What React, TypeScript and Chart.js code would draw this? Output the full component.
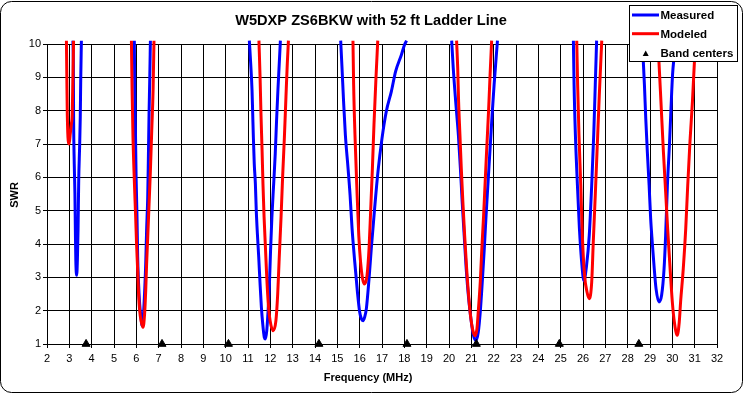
import React, { useEffect, useRef } from "react";
import { Chart, registerables } from "chart.js";

Chart.register(...registerables);

const TITLE = "W5DXP ZS6BKW with 52 ft Ladder Line";
const X_TITLE = "Frequency (MHz)";
const Y_TITLE = "SWR";
const LEGEND_LABELS = ["Measured", "Modeled", "Band centers"];

const X_MIN = 2;
const X_MAX = 32;
const Y_MIN = 1;
const Y_MAX = 10;

// Measured sweep (null = gap between dips, SWR above 10)
const measuredMHz = [
  3.16, 3.18, 3.19, 3.22, 3.25, 3.27, 3.29, 3.33, 3.36, 3.39, 3.42, 3.46, 3.49, 3.51, 3.54,
  4.5,
  5.91, 5.93, 5.96, 5.99, 6.03, 6.06, 6.10, 6.15, 6.21, 6.25, 6.31, 6.36, 6.42, 6.46, 6.51, 6.54, 6.57, 6.60, 6.63,
  9.0,
  11.06, 11.12, 11.18, 11.21, 11.24, 11.28, 11.33, 11.37, 11.42, 11.48, 11.54, 11.60, 11.66, 11.73, 11.78, 11.84,
  11.90, 11.96, 12.01, 12.07, 12.15, 12.22, 12.28, 12.34, 12.40, 12.45,
  14.0,
  15.15, 15.21, 15.28, 15.36, 15.48, 15.57, 15.66, 15.78, 15.90, 16.00, 16.08, 16.15, 16.22, 16.30, 16.42, 16.52,
  16.67, 16.82, 17.00, 17.19, 17.42, 17.61, 17.87, 18.01, 18.10,
  19.0,
  20.12, 20.19, 20.30, 20.42, 20.51, 20.59, 20.68, 20.77, 20.88, 20.98, 21.08, 21.20, 21.31, 21.40, 21.49, 21.58,
  21.66, 21.75, 21.84, 21.93, 22.02, 22.11, 22.17,
  24.0,
  25.57, 25.60, 25.66, 25.75, 25.84, 25.94, 26.04, 26.16, 26.28, 26.39, 26.48, 26.55, 26.61,
  27.8,
  28.64, 28.70, 28.75, 28.81, 28.88, 28.96, 29.03, 29.10, 29.19, 29.27, 29.40, 29.52, 29.63, 29.70, 29.78, 29.87,
  29.94, 30.01, 30.09, 30.14,
];
const measuredSWR = [
  10.1, 9.42, 7.92, 6.41, 5.51, 4.41, 3.51, 3.06, 3.51, 4.41, 5.91, 6.91, 7.82, 8.92, 10.1,
  null,
  10.1, 8.62, 7.41, 6.0, 4.81, 3.61, 2.81, 2.2, 1.8, 1.55, 1.8, 2.4, 3.4, 4.41, 5.41, 6.61, 7.92, 8.92, 10.1,
  null,
  10.1, 9.42, 8.62, 7.92, 7.21, 6.41, 5.81, 5.01, 4.31, 3.61, 2.81, 2.1, 1.6, 1.2, 1.15, 1.4,
  2.0, 2.81, 3.81, 4.81, 5.81, 6.71, 7.72, 8.62, 9.42, 10.1,
  null,
  10.1, 9.28, 8.27, 7.27, 6.27, 5.47, 4.46, 3.46, 2.56, 1.96, 1.75, 1.7, 1.8, 2.06, 2.96, 3.86,
  5.07, 6.17, 7.17, 7.97, 8.58, 9.18, 9.68, 9.98, 10.1,
  null,
  10.1, 9.28, 8.27, 7.27, 6.27, 5.27, 4.26, 3.26, 2.36, 1.76, 1.3, 1.1, 1.35, 1.96, 2.86, 3.86,
  4.86, 5.87, 6.87, 7.87, 8.78, 9.58, 10.1,
  null,
  10.1, 8.78, 7.27, 5.77, 4.46, 3.46, 2.9, 3.36, 4.26, 5.77, 7.27, 8.78, 10.1,
  null,
  10.1, 9.48, 8.78, 7.77, 6.77, 5.77, 4.76, 4.06, 3.26, 2.66, 2.26, 2.46, 3.26, 4.26, 5.77, 6.97,
  8.07, 9.08, 9.7, 10.1,
];

// Modeled sweep
const modeledMHz = [
  2.87, 2.89, 2.91, 2.95, 2.99, 3.04, 3.09, 3.13, 3.16, 3.19,
  4.5,
  5.78, 5.81, 5.85, 5.91, 5.97, 6.01, 6.06, 6.10, 6.15, 6.21, 6.30, 6.37, 6.42, 6.46, 6.51, 6.57, 6.63, 6.69, 6.75, 6.79,
  9.0,
  11.49, 11.54, 11.58, 11.63, 11.67, 11.72, 11.78, 11.84, 11.91, 11.99, 12.13, 12.25, 12.33, 12.40, 12.48, 12.55,
  12.63, 12.70, 12.76, 12.81,
  14.0,
  15.70, 15.73, 15.79, 15.87, 15.96, 16.04, 16.13, 16.22, 16.33, 16.42, 16.49, 16.57, 16.64, 16.73, 16.81,
  19.0,
  20.34, 20.39, 20.43, 20.49, 20.55, 20.62, 20.70, 20.79, 20.89, 20.98, 21.07, 21.16, 21.25, 21.32, 21.40, 21.47,
  21.55, 21.62, 21.69, 21.77, 21.84, 21.91,
  24.0,
  25.72, 25.76, 25.82, 25.90, 25.97, 26.07, 26.18, 26.28, 26.39, 26.46, 26.55, 26.64, 26.73, 26.84,
  27.8,
  29.35, 29.40, 29.49, 29.60, 29.70, 29.79, 29.90, 30.00, 30.09, 30.22, 30.31, 30.37, 30.49, 30.60, 30.69, 30.79,
  30.90, 30.99, 31.05,
];
const modeledSWR = [
  10.1, 8.9, 7.85, 7.1, 7.0, 7.3, 7.6, 7.9, 9.0, 10.1,
  null,
  10.1, 8.62, 7.21, 5.91, 4.81, 4.01, 3.21, 2.5, 2.0, 1.7, 1.5, 1.9, 2.6, 3.4, 4.2, 5.2, 6.2, 7.41, 8.62, 10.1,
  null,
  10.1, 9.02, 7.92, 6.81, 5.81, 4.81, 3.91, 3.0, 2.2, 1.7, 1.4, 1.7, 2.5, 3.61, 4.81, 6.01,
  7.21, 8.42, 9.42, 10.1,
  null,
  10.1, 8.78, 7.27, 5.77, 4.26, 3.46, 2.96, 2.8, 3.06, 3.86, 4.96, 6.27, 7.57, 8.98, 10.1,
  null,
  10.1, 9.28, 8.27, 7.27, 6.27, 5.27, 4.26, 3.26, 2.36, 1.76, 1.4, 1.25, 1.45, 2.06, 2.86, 3.86,
  4.86, 5.87, 6.87, 7.97, 9.08, 10.1,
  null,
  10.1, 8.78, 7.27, 5.77, 4.26, 3.06, 2.56, 2.36, 2.86, 4.06, 5.47, 6.97, 8.47, 10.1,
  null,
  10.1, 9.48, 8.27, 6.77, 5.57, 4.46, 3.26, 2.26, 1.66, 1.26, 1.66, 2.26, 3.26, 4.46, 5.77, 7.07,
  8.27, 9.48, 10.1,
];

// Amateur band centers
const bandCenterMHz = [3.75, 7.15, 10.125, 14.175, 18.118, 21.225, 24.94, 28.5];
const bandCenterSWR = [1, 1, 1, 1, 1, 1, 1, 1];

const BLUE = "#0000ff";
const RED = "#ff0000";
const FONT = '"Liberation Sans", Arial, Helvetica, sans-serif';

function toPoints(xs: number[], ys: (number | null)[]) {
  return xs.map((x, i) => ({ x, y: ys[i] }));
}

const decorPlugin = {
  id: "decor",
  beforeDraw(chart: any) {
    const ctx = chart.ctx;
    ctx.save();
    ctx.fillStyle = "#ffffff";
    ctx.fillRect(0, 0, chart.width, chart.height);
    ctx.restore();
  },
  afterDraw(chart: any) {
    const ctx = chart.ctx;
    ctx.save();
    // outer frame
    ctx.strokeStyle = "#000";
    ctx.lineWidth = 1;
    ctx.beginPath();
    if (ctx.roundRect) ctx.roundRect(0.5, 1.5, 742, 391, 11);
    else ctx.rect(0.5, 1.5, 742, 391);
    ctx.stroke();

    // title
    ctx.fillStyle = "#000";
    ctx.textAlign = "center";
    ctx.textBaseline = "alphabetic";
    ctx.font = `bold 14.6px ${FONT}`;
    ctx.fillText(TITLE, 371, 25);

    // axis titles
    ctx.font = `bold 11px ${FONT}`;
    ctx.fillText(X_TITLE, 368, 381);
    ctx.save();
    ctx.translate(18, 195);
    ctx.rotate(-Math.PI / 2);
    ctx.fillText(Y_TITLE, 0, 0);
    ctx.restore();

    // legend
    const lx = 629.5, ly = 5.5, lw = 108, lh = 56;
    ctx.fillStyle = "#fff";
    ctx.fillRect(lx, ly, lw, lh);
    ctx.strokeStyle = "#000";
    ctx.lineWidth = 1;
    ctx.strokeRect(lx, ly, lw, lh);

    ctx.lineWidth = 3;
    ctx.strokeStyle = BLUE;
    ctx.beginPath();
    ctx.moveTo(632, 15);
    ctx.lineTo(659, 15);
    ctx.stroke();
    ctx.strokeStyle = RED;
    ctx.beginPath();
    ctx.moveTo(632, 33.7);
    ctx.lineTo(659, 33.7);
    ctx.stroke();

    ctx.fillStyle = "#000";
    ctx.beginPath();
    ctx.moveTo(642.7, 56);
    ctx.lineTo(648.7, 56);
    ctx.lineTo(645.7, 50.5);
    ctx.closePath();
    ctx.fill();

    ctx.textAlign = "left";
    ctx.font = `bold 11.5px ${FONT}`;
    ctx.fillText(LEGEND_LABELS[0], 660.5, 19);
    ctx.fillText(LEGEND_LABELS[1], 660.5, 38);
    ctx.fillText(LEGEND_LABELS[2], 660.5, 57);
    ctx.restore();
  },
};

export default function App() {
  const canvasRef = useRef<HTMLCanvasElement | null>(null);

  useEffect(() => {
    if (!canvasRef.current) return;
    Chart.defaults.font.family = FONT;
    const chart = new Chart(canvasRef.current, {
      type: "line",
      data: {
        datasets: [
          {
            label: LEGEND_LABELS[2],
            data: toPoints(bandCenterMHz, bandCenterSWR),
            showLine: false,
            pointStyle: "triangle",
            pointRadius: 4.6,
            pointBackgroundColor: "#000",
            pointBorderColor: "#000",
            pointBorderWidth: 1,
            borderColor: "#000",
            backgroundColor: "#000",
            clip: false as any,
            order: 0,
          },
          {
            label: LEGEND_LABELS[1],
            data: toPoints(modeledMHz, modeledSWR),
            borderColor: RED,
            backgroundColor: RED,
            borderWidth: 3,
            pointRadius: 0,
            spanGaps: false,
            cubicInterpolationMode: "monotone",
            clip: { left: 0, top: 5, right: 0, bottom: 0 } as any,
            order: 1,
          },
          {
            label: LEGEND_LABELS[0],
            data: toPoints(measuredMHz, measuredSWR),
            borderColor: BLUE,
            backgroundColor: BLUE,
            borderWidth: 3,
            pointRadius: 0,
            spanGaps: false,
            cubicInterpolationMode: "monotone",
            clip: { left: 0, top: 5, right: 0, bottom: 0 } as any,
            order: 2,
          },
        ] as any,
      },
      options: {
        responsive: false,
        maintainAspectRatio: false,
        animation: false,
        devicePixelRatio: 1,
        events: [],
        layout: { padding: { left: 0, top: 44, right: 27, bottom: 0 } },
        plugins: {
          legend: { display: false },
          title: { display: false },
          tooltip: { enabled: false },
        },
        scales: {
          x: {
            type: "linear",
            min: X_MIN,
            max: X_MAX,
            afterFit: (scale: any) => {
              scale.height = 50;
            },
            ticks: {
              stepSize: 1,
              autoSkip: false,
              maxRotation: 0,
              color: "#000",
              padding: 4,
              font: { size: 11, family: FONT },
            },
            grid: { color: "#000", lineWidth: 1, tickLength: 4, drawTicks: true },
            border: { display: true, color: "#000", width: 1 },
          },
          y: {
            type: "linear",
            min: Y_MIN,
            max: Y_MAX,
            afterFit: (scale: any) => {
              scale.width = 47;
            },
            ticks: {
              stepSize: 1,
              color: "#000",
              padding: 2,
              font: { size: 11, family: FONT },
            },
            grid: { color: "#000", lineWidth: 1, tickLength: 4, drawTicks: true },
            border: { display: true, color: "#000", width: 1 },
          },
        },
      } as any,
      plugins: [decorPlugin],
    });
    return () => chart.destroy();
  }, []);

  return (
    <div style={{ position: "absolute", left: 0, top: 0, width: 744, height: 394 }}>
      <canvas ref={canvasRef} width={744} height={394} style={{ display: "block" }} />
    </div>
  );
}
